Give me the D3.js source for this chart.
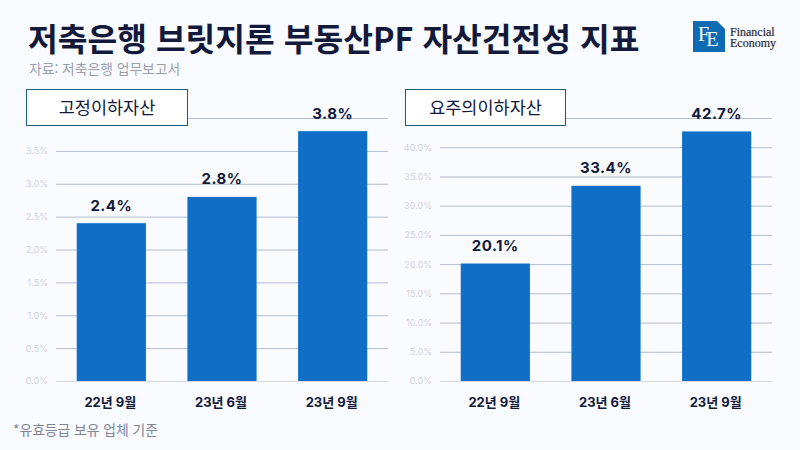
<!DOCTYPE html>
<html lang='ko'>
<head>
	<meta charset='UTF-8'>
	<title>저축은행 브릿지론 부동산PF 자산건전성 지표</title>
	<style>
		html, body { margin: 0; padding: 0; background: #f9fbff; }
		svg { display: block; }
		text { font-family: Inter, 'Noto Sans CJK KR', sans-serif; }
	</style>
</head>
<body>

<svg></svg>

<script src='https://d3js.org/d3.v7.min.js'></script>
<script>
const categories = ['22년 9월', '23년 6월', '23년 9월']

const fixedValues = [2.4, 2.8, 3.8]
const fixedTicks = [0, 0.5, 1, 1.5, 2, 2.5, 3, 3.5, 4]
const fixedHiddenTicks = [4]

const watchValues = [20.1, 33.4, 42.7]
const watchTicks = [0, 5, 10, 15, 20, 25, 30, 35, 40, 45]
const watchHiddenTicks = [45]

const width = 800
const height = 450
const dark = '#12193a'
const blue = '#0f6ec6'
const kr = "'Noto Sans CJK KR', sans-serif"

const svg = d3.select('svg')
	.attr('width', width)
	.attr('height', height)

svg.append('rect')
	.attr('width', width)
	.attr('height', height)
	.attr('fill', '#f9fbff')

svg.append('text')
	.attr('x', 28)
	.attr('y', 51)
	.attr('fill', dark)
	.style('font-family', kr)
	.style('font-size', '32.3px')
	.style('font-weight', 700)
	.text('저축은행 브릿지론 부동산PF 자산건전성 지표')

svg.append('text')
	.attr('x', 29)
	.attr('y', 74)
	.attr('fill', '#9a9fb0')
	.style('font-family', kr)
	.style('font-size', '13.8px')
	.text('자료: 저축은행 업무보고서')

svg.append('text')
	.attr('x', 13)
	.attr('y', 435)
	.attr('fill', '#7f8498')
	.style('font-family', kr)
	.style('font-size', '13.8px')
	.text('*유효등급 보유 업체 기준')

function panel({ values, ticks, hidden, max, left, right, title, boxLeft, boxRight }) {
	const x = d3.scaleBand()
		.domain(categories)
		.range([left, right])
		.paddingInner(0.375)
		.paddingOuter(0.1875)

	const y = d3.scaleLinear()
		.domain([0, max])
		.range([381, 118])

	const g = svg.append('g')

	const axis = g.append('g')
		.attr('transform', `translate(${left},0)`)
		.call(d3.axisLeft(y)
			.tickValues(ticks)
			.tickSize(-(right - left))
			.tickPadding(8)
			.tickFormat(d => d.toFixed(1) + '%'))

	axis.select('.domain').remove()
	axis.selectAll('.tick line')
		.attr('stroke', d => d === 0 ? '#d5d8e2' : '#b5bccd')
	axis.selectAll('.tick text')
		.attr('fill', '#d0d3dd')
		.style('font-size', '9px')
		.style('display', d => hidden.includes(d) ? 'none' : null)

	g.selectAll('.bar')
		.data(values)
		.join('rect')
		.attr('class', 'bar')
		.attr('x', (d, i) => x(categories[i]))
		.attr('y', d => y(d))
		.attr('width', x.bandwidth())
		.attr('height', d => y(0) - y(d))
		.attr('fill', blue)

	g.selectAll('.value')
		.data(values)
		.join('text')
		.attr('class', 'value')
		.attr('x', (d, i) => x(categories[i]) + x.bandwidth() / 2)
		.attr('y', d => y(d) - 12.5)
		.attr('text-anchor', 'middle')
		.attr('fill', dark)
		.style('font-size', '15px')
		.style('font-weight', 700)
		.style('letter-spacing', '0.5px')
		.text(d => d.toFixed(1) + '%')

	g.selectAll('.category')
		.data(categories)
		.join('text')
		.attr('class', 'category')
		.attr('x', d => x(d) + x.bandwidth() / 2 - 1)
		.attr('y', 407)
		.attr('text-anchor', 'middle')
		.attr('fill', dark)
		.style('font-size', '13px')
		.style('font-weight', 700)
		.text(d => d)

	g.append('rect')
		.attr('x', boxLeft)
		.attr('y', 89.5)
		.attr('width', boxRight - boxLeft)
		.attr('height', 36)
		.attr('fill', '#fff')
		.attr('stroke', '#1a5a7a')
		.attr('stroke-width', 1)

	g.append('text')
		.attr('x', (boxLeft + boxRight) / 2)
		.attr('y', 114)
		.attr('text-anchor', 'middle')
		.attr('fill', dark)
		.style('font-family', kr)
		.style('font-size', '17.5px')
		.text(title)
}

panel({
	values: fixedValues,
	ticks: fixedTicks,
	hidden: fixedHiddenTicks,
	max: 4,
	left: 56,
	right: 388,
	title: '고정이하자산',
	boxLeft: 26.5,
	boxRight: 187.5
})

panel({
	values: watchValues,
	ticks: watchTicks,
	hidden: watchHiddenTicks,
	max: 45,
	left: 440,
	right: 772,
	title: '요주의이하자산',
	boxLeft: 405.5,
	boxRight: 565.5
})

// logo
const logo = svg.append('g').attr('transform', 'translate(693,21)')

logo.append('rect')
	.attr('width', 32)
	.attr('height', 31)
	.attr('fill', '#0f6ab4')

logo.append('path')
	.attr('d', 'M24,0H32V8Z')
	.attr('fill', '#f9fbff')

const mark = logo.append('text')
	.attr('x', 5)
	.attr('y', 20)
	.attr('fill', '#fff')
	.style('font-family', "'Liberation Serif', serif")
	.style('font-size', '20px')

mark.append('tspan').text('F')
mark.append('tspan').attr('dx', -3).attr('dy', 5).text('E')

logo.selectAll('.name')
	.data(['Financial', 'Economy'])
	.join('text')
	.attr('class', 'name')
	.attr('x', 37)
	.attr('y', (d, i) => 15 + i * 10.5)
	.attr('fill', '#2b2b33')
	.style('font-family', "'Liberation Serif', serif")
	.style('font-size', '12px')
	.style('font-weight', 400)
	.style('stroke', '#2b2b33')
	.style('stroke-width', 0.2)
	.text(d => d)
</script>
</body>
</html>
